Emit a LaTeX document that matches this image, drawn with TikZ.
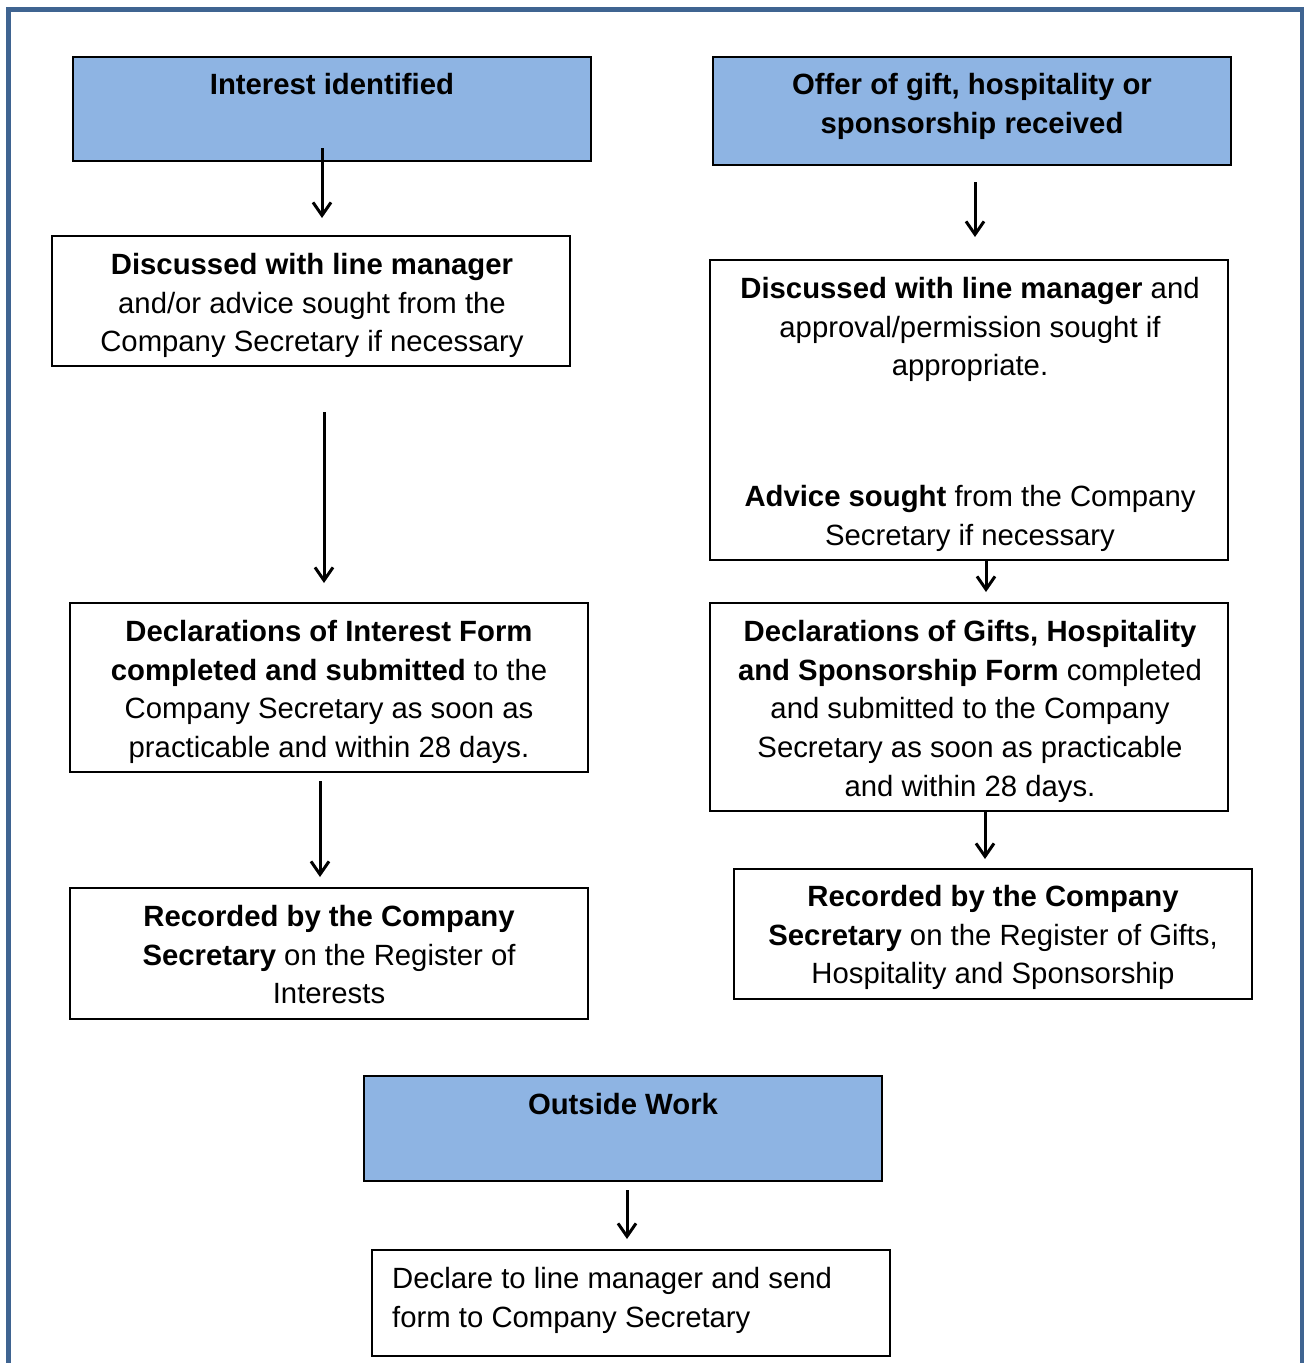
\documentclass[tikz,border=0pt]{standalone}
\usepackage{fontspec}
\setmainfont{Liberation Sans}
\usetikzlibrary{arrows.meta}
\definecolor{hdrblue}{RGB}{142,180,227}
\definecolor{framecol}{RGB}{63,100,145}
\newcommand{\tstr}{\rule{0pt}{25pt}}
\begin{document}
\begin{tikzpicture}[x=1pt,y=-1pt,
  box/.style={draw=black, line width=1.6pt, minimum width=518pt, inner sep=0pt, outer sep=0pt, anchor=north west},
  hdr/.style={box, fill=hdrblue},
  txt/.style={anchor=north, inner sep=0pt, align=center, font=\fontsize{29.3pt}{38.8pt}\selectfont},
  flow/.style={line width=3pt, -{Straight Barb[length=13pt,width=18pt]}}]
\useasboundingbox (0,0) rectangle (1304,1363);
\fill[white] (0,0) rectangle (1304,1363);
% outer frame
\draw[framecol, line width=5pt] (8.5,1375) -- (8.5,9.5) -- (1302,9.5) -- (1302,1375);

% boxes
\node[hdr, minimum height=104pt] (b1) at (73,57) {};
\node[hdr, minimum height=108pt] (b2) at (713,57) {};
\node[box, minimum height=130pt] (b3) at (52,236) {};
\node[box, minimum height=300pt] (b4) at (710,260) {};
\node[box, minimum height=169pt] (b5) at (70,603) {};
\node[box, minimum height=208pt] (b6) at (710,603) {};
\node[box, minimum height=131pt] (b7) at (70,888) {};
\node[box, minimum height=130pt] (b8) at (734,869) {};
\node[hdr, minimum height=105pt] (b9) at (364,1076) {};
\node[box, minimum height=106pt] (b10) at (372,1250) {};

% texts
\node[txt] (t1) at (332,69) {\tstr\textbf{Interest identified}};
\node[txt] (t2) at (972,69) {\tstr\textbf{Offer of gift, hospitality or}\\\textbf{sponsorship received}};
\node[txt] (t3) at (312,249) {\tstr\textbf{Discussed with line manager}\\and/or advice sought from the\\Company Secretary if necessary};
\node[txt] (t4) at (970,273) {\tstr\textbf{Discussed with line manager} and\\approval/permission sought if\\appropriate.\\[92pt]\textbf{Advice sought} from the Company\\Secretary if necessary};
\node[txt] (t5) at (329,616) {\tstr\textbf{Declarations of Interest Form}\\\textbf{completed and submitted} to the\\Company Secretary as soon as\\practicable and within 28 days.};
\node[txt] (t6) at (970,616) {\tstr\textbf{Declarations of Gifts, Hospitality}\\\textbf{and Sponsorship Form} completed\\and submitted to the Company\\Secretary as soon as practicable\\and within 28 days.};
\node[txt] (t7) at (329,901) {\tstr\textbf{Recorded by the Company}\\\textbf{Secretary} on the Register of\\Interests};
\node[txt] (t8) at (993,881) {\tstr\textbf{Recorded by the Company}\\\textbf{Secretary} on the Register of Gifts,\\Hospitality and Sponsorship};
\node[txt] (t9) at (623,1089) {\tstr\textbf{Outside Work}};
\node[txt, anchor=north west, align=left] (t10) at (392,1263) {\tstr Declare to line manager and send\\form to Company Secretary};

% arrow end points
\coordinate (a1s) at (322,148); \coordinate (a1e) at (322,218);
\coordinate (a2s) at (975,182); \coordinate (a2e) at (975,237);
\coordinate (a3s) at (324,412); \coordinate (a3e) at (324,583);
\coordinate (a4s) at (986,560); \coordinate (a4e) at (986,592);
\coordinate (a5s) at (320,781); \coordinate (a5e) at (320,877);
\coordinate (a6s) at (985,811); \coordinate (a6e) at (985,859);
\coordinate (a7s) at (627,1190); \coordinate (a7e) at (627,1239);
\draw[flow] (a1s) -- (a1e);
\draw[flow] (a2s) -- (a2e);
\draw[flow] (a3s) -- (a3e);
\draw[flow] (a4s) -- (a4e);
\draw[flow] (a5s) -- (a5e);
\draw[flow] (a6s) -- (a6e);
\draw[flow] (a7s) -- (a7e);
\end{tikzpicture}
\end{document}
